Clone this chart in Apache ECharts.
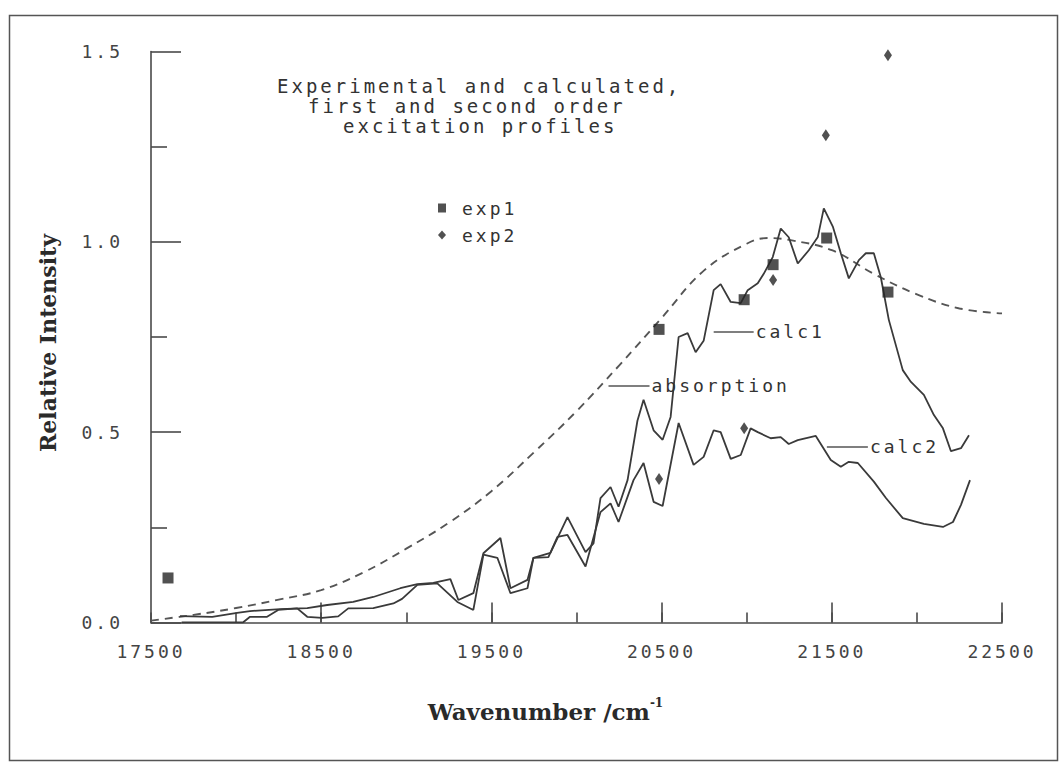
<!DOCTYPE html>
<html>
<head>
<meta charset="utf-8">
<script src="https://cdn.jsdelivr.net/npm/echarts@6/dist/echarts.min.js"></script>
<style>
  html, body { margin: 0; padding: 0; background: #fff; }
  #chart { width: 1064px; height: 766px; }
  /* wide plotter-style lettering for the monospace texts */
  #chart text { letter-spacing: 3px; }
  #chart text[style*="Serif"] { letter-spacing: 0; }
</style>
</head>
<body>
<div id="chart"></div>
<script>
// Axis tick labels
const xTickLabels = [17500, 18500, 19500, 20500, 21500, 22500];
const yTickLabels = [0, 0.5, 1.0, 1.5];

// Absorption spectrum (wavenumber /cm-1, relative intensity)
const absorption = [
  [17500, 0.005], [17750, 0.02], [18000, 0.038], [18250, 0.06], [18500, 0.085],
  [18750, 0.132], [19000, 0.194], [19250, 0.262], [19500, 0.345], [19750, 0.447],
  [20000, 0.555], [20250, 0.675], [20500, 0.80], [20750, 0.925], [21000, 0.995],
  [21125, 1.01], [21250, 1.005], [21500, 0.978], [21750, 0.915], [22000, 0.862],
  [22250, 0.825], [22500, 0.812]
];

// Calculated first order excitation profile
const calc1 = [
  [17670, 0.017], [17860, 0.015], [18006, 0.025], [18082, 0.03], [18259, 0.035],
  [18418, 0.038], [18535, 0.046], [18688, 0.054], [18806, 0.067], [18965, 0.09],
  [19065, 0.101], [19159, 0.104], [19259, 0.114], [19306, 0.059], [19394, 0.077],
  [19453, 0.182], [19553, 0.222], [19612, 0.09], [19712, 0.112], [19747, 0.17],
  [19847, 0.183], [19947, 0.277], [20053, 0.185], [20100, 0.208], [20141, 0.327],
  [20200, 0.356], [20247, 0.304], [20300, 0.374], [20358, 0.53], [20394, 0.585],
  [20453, 0.505], [20506, 0.48], [20553, 0.54], [20600, 0.75], [20653, 0.76],
  [20700, 0.71], [20747, 0.74], [20806, 0.873], [20847, 0.889], [20906, 0.842],
  [20965, 0.839], [21006, 0.873], [21065, 0.891], [21100, 0.916], [21153, 0.96],
  [21200, 1.035], [21247, 1.012], [21300, 0.943], [21365, 0.978], [21418, 1.013],
  [21453, 1.088], [21506, 1.04], [21553, 0.97], [21600, 0.904], [21659, 0.952],
  [21700, 0.97], [21747, 0.97], [21788, 0.907], [21835, 0.795], [21917, 0.663],
  [21965, 0.632], [22041, 0.598], [22100, 0.545], [22153, 0.51], [22200, 0.45],
  [22259, 0.458], [22306, 0.492]
];

// Calculated second order excitation profile
const calc2 = [
  [17680, 0.0], [18040, 0.0], [18082, 0.015], [18182, 0.015], [18247, 0.033],
  [18359, 0.037], [18418, 0.015], [18506, 0.012], [18600, 0.016], [18659, 0.037],
  [18806, 0.038], [18924, 0.05], [18975, 0.062], [19065, 0.099], [19182, 0.103],
  [19300, 0.054], [19394, 0.033], [19453, 0.178], [19535, 0.17], [19612, 0.077],
  [19712, 0.09], [19747, 0.17], [19835, 0.172], [19888, 0.225], [19947, 0.23],
  [20053, 0.147], [20141, 0.29], [20200, 0.313], [20247, 0.264], [20335, 0.374],
  [20394, 0.419], [20453, 0.317], [20506, 0.306], [20600, 0.524], [20688, 0.414],
  [20747, 0.435], [20806, 0.505], [20847, 0.50], [20906, 0.43], [20965, 0.44],
  [21023, 0.51], [21065, 0.50], [21141, 0.484], [21200, 0.487], [21247, 0.469],
  [21300, 0.479], [21406, 0.49], [21494, 0.427], [21553, 0.409], [21600, 0.422],
  [21653, 0.419], [21747, 0.37], [21818, 0.327], [21917, 0.274], [22041, 0.259],
  [22153, 0.251], [22212, 0.264], [22259, 0.309], [22312, 0.374]
];

// Experimental points
const exp1 = [
  [17600, 0.117], [20485, 0.77], [20985, 0.848], [21155, 0.94], [21470, 1.01], [21830, 0.868]
];
const exp2 = [
  [20485, 0.377], [20985, 0.51], [21155, 0.90], [21465, 1.28], [21830, 1.49]
];

const MONO = 'DejaVu Sans Mono';
const INK = '#3a3a3a';
const AXIS = '#4a4a4a';

const leaderLabel = (text) => ({
  show: true,
  position: 'end',
  distance: 2,
  formatter: text,
  color: '#333',
  fontFamily: MONO,
  fontSize: 18,
  padding: [9, 0, 0, 0]
});
const leaderStyle = { type: 'solid', color: '#555', width: 1.5 };

const chart = echarts.init(document.getElementById('chart'), null, { renderer: 'svg' });

chart.setOption({
  backgroundColor: '#ffffff',
  animation: false,
  grid: { left: 151, top: 51.5, right: 62, bottom: 143.5, outerBoundsMode: 'none' },
  legend: {
    orient: 'vertical',
    left: 433,
    top: 194,
    itemWidth: 8,
    itemHeight: 9,
    itemGap: 9,
    selectedMode: false,
    data: [
      { name: 'exp1', icon: 'rect' },
      { name: 'exp2', icon: 'diamond' }
    ],
    textStyle: { fontFamily: MONO, fontSize: 18, color: '#333', padding: [0, 0, 0, 11] }
  },
  xAxis: [
    {
      type: 'value',
      min: 17500,
      max: 22500,
      interval: 500,
      name: '{a|Wavenumber /cm}{s|-1}',
      nameLocation: 'middle',
      nameGap: 74,
      nameTextStyle: {
        padding: [0, 62, 0, 0],
        rich: {
          a: { fontFamily: 'DejaVu Serif', fontWeight: 'bold', fontSize: 23, color: '#2a2a2a', lineHeight: 30 },
          s: { fontFamily: 'DejaVu Serif', fontWeight: 'bold', fontSize: 12, color: '#2a2a2a', verticalAlign: 'top', lineHeight: 30 }
        }
      },
      axisLine: { lineStyle: { color: AXIS, width: 1.6 } },
      axisTick: { show: true, inside: true, length: 20, customValues: xTickLabels.slice(1), lineStyle: { color: AXIS, width: 1.6 } },
      axisLabel: {
        customValues: xTickLabels,
        margin: 20,
        fontFamily: MONO,
        fontSize: 18,
        color: '#444',
        formatter: (v) => String(v)
      },
      splitLine: { show: false }
    },
    {
      // half-step ticks between the labelled ones
      type: 'value',
      position: 'bottom',
      min: 17500,
      max: 22500,
      interval: 500,
      axisLine: { show: false },
      axisTick: { show: true, inside: true, length: 10, lineStyle: { color: AXIS, width: 1.6 } },
      axisLabel: { show: false },
      splitLine: { show: false }
    }
  ],
  yAxis: {
    type: 'value',
    min: 0,
    max: 1.5,
    interval: 0.5,
    name: 'Relative Intensity',
    nameLocation: 'middle',
    nameGap: 92,
    nameTextStyle: { fontFamily: 'DejaVu Serif', fontWeight: 'bold', fontSize: 22, color: '#2a2a2a', padding: [0, 12, 0, 0] },
    axisLine: { show: true, lineStyle: { color: AXIS, width: 1.6 } },
    axisTick: { show: true, inside: true, length: 30, lineStyle: { color: AXIS, width: 1.6 } },
    minorTick: { show: true, splitNumber: 2, length: 16, lineStyle: { color: AXIS, width: 1.6 } },
    axisLabel: {
      margin: 28,
      fontFamily: MONO,
      fontSize: 18,
      color: '#444',
      padding: [10, 0, 0, 0],
      formatter: (v) => yTickLabels.includes(v) ? v.toFixed(1) : ''
    },
    splitLine: { show: false }
  },
  graphic: [
    {
      type: 'rect',
      silent: true,
      shape: { x: 9.5, y: 15.5, width: 1048, height: 745 },
      style: { fill: 'none', stroke: '#555', lineWidth: 1.5 }
    },
    {
      type: 'text', silent: true, x: 277, y: 76,
      style: {
        text: 'Experimental and calculated,\n{b|first and second order}\n{c|excitation profiles}',
        font: '19px "DejaVu Sans Mono"',
        fill: '#333',
        lineHeight: 20,
        rich: {
          b: { fontFamily: MONO, fontSize: 19, lineHeight: 20, padding: [0, 0, 0, 31] },
          c: { fontFamily: MONO, fontSize: 19, lineHeight: 20, padding: [0, 0, 0, 66] }
        }
      }
    }
  ],
  series: [
    {
      name: 'absorption',
      type: 'line',
      data: absorption,
      smooth: 0.4,
      symbol: 'none',
      lineStyle: { color: '#555', width: 1.9, type: [8, 6] },
      markLine: {
        silent: true,
        symbol: ['none', 'none'],
        lineStyle: leaderStyle,
        label: leaderLabel('absorption'),
        data: [[{ coord: [20188, 0.622] }, { coord: [20429, 0.622] }]]
      }
    },
    {
      name: 'calc1',
      type: 'line',
      data: calc1,
      symbol: 'none',
      lineStyle: { color: INK, width: 1.8 },
      markLine: {
        silent: true,
        symbol: ['none', 'none'],
        lineStyle: leaderStyle,
        label: leaderLabel('calc1'),
        data: [[{ coord: [20806, 0.764] }, { coord: [21041, 0.764] }]]
      }
    },
    {
      name: 'calc2',
      type: 'line',
      data: calc2,
      symbol: 'none',
      lineStyle: { color: INK, width: 1.8 },
      markLine: {
        silent: true,
        symbol: ['none', 'none'],
        lineStyle: leaderStyle,
        label: leaderLabel('calc2'),
        data: [[{ coord: [21471, 0.462] }, { coord: [21712, 0.462] }]]
      }
    },
    {
      name: 'exp1',
      type: 'scatter',
      data: exp1,
      symbol: 'rect',
      symbolSize: 11,
      itemStyle: { color: '#262626' },
      z: 5
    },
    {
      name: 'exp2',
      type: 'scatter',
      data: exp2,
      symbol: 'diamond',
      symbolSize: [8, 12],
      itemStyle: { color: '#262626' },
      z: 5
    }
  ]
});
</script>
</body>
</html>
